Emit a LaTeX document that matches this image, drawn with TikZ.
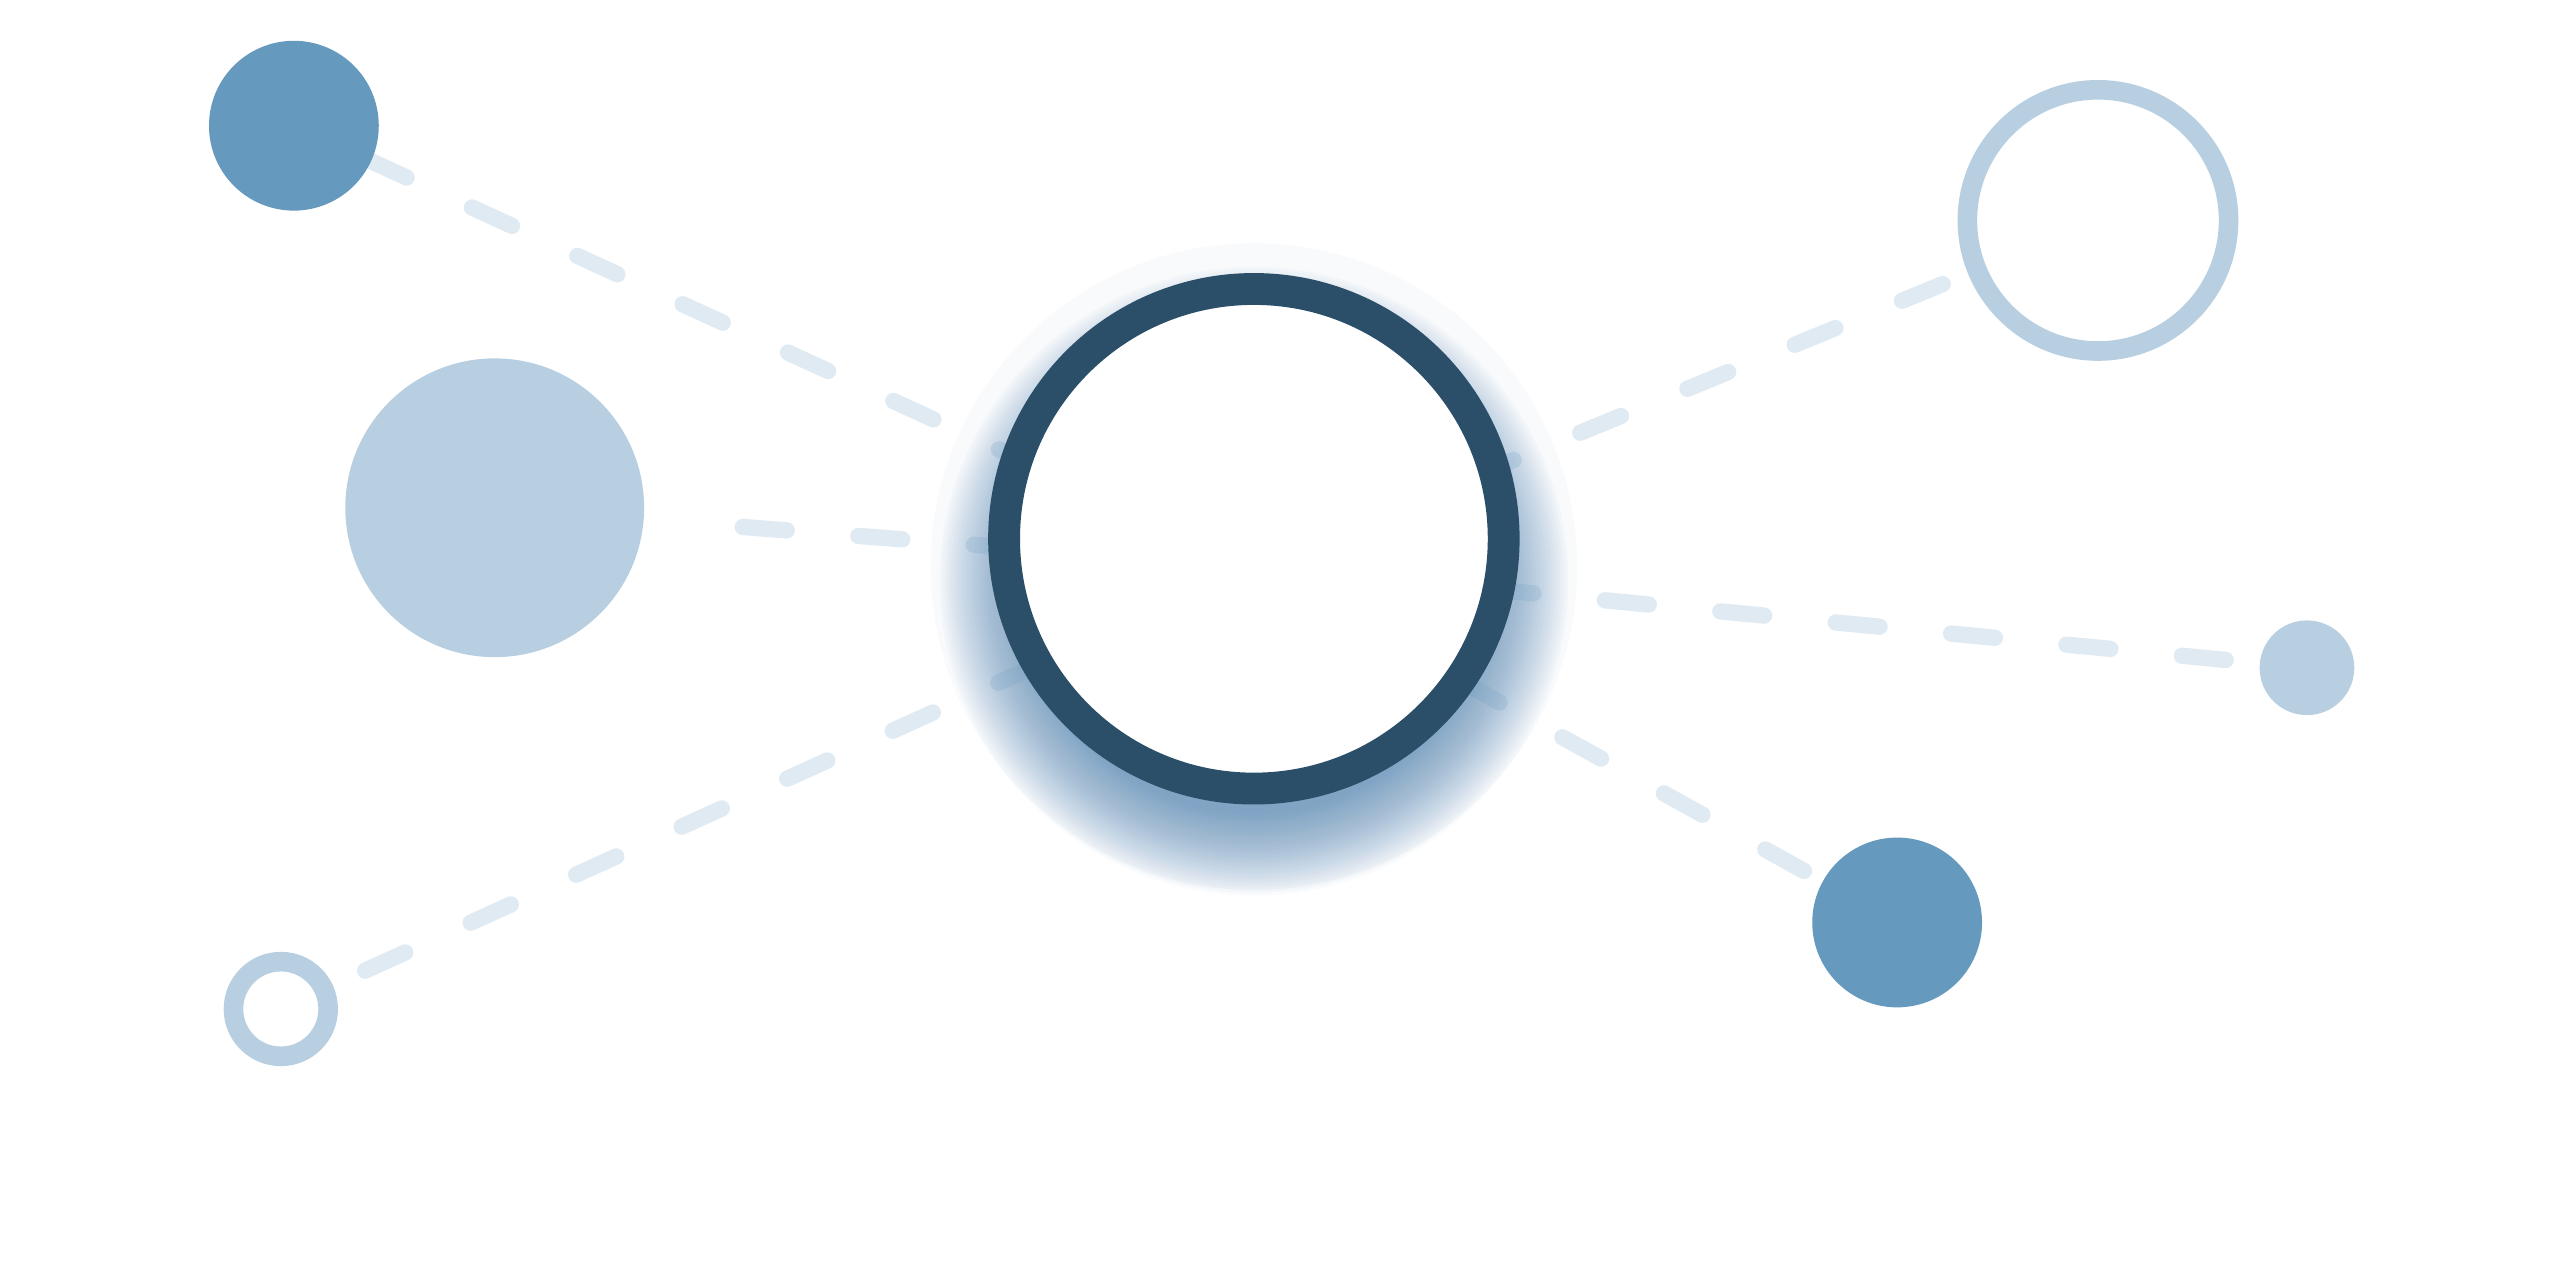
\documentclass[tikz,border=0pt]{standalone}
\usepackage{xcolor}
\usepackage{tikz}
\definecolor{hubring}{HTML}{2B4F69}
\definecolor{satdark}{HTML}{6699BE}
\definecolor{satlight}{HTML}{B8CFE2}
\definecolor{glowblue}{HTML}{3D78AB}

\begin{document}
\begin{tikzpicture}[x=1pt, y=-1pt,
  full/.style={circle, inner sep=0pt, fill=#1},
  hollow/.style={circle, inner sep=0pt, draw=satlight, line width=12pt, fill=white},
  core/.style={circle, inner sep=0pt, draw=hubring, line width=19.5pt, fill=white, minimum size=306pt},
  link/.style={draw=satdark, draw opacity=.2, line width=10pt, line cap=round,
    dash pattern=on 27pt off 44pt, dash phase=68pt}]
  \fill[white] (0,0) rectangle (1568,784);
  \useasboundingbox (0,0) rectangle (1568,784);

  % soft halo behind the hub
  \fill[glowblue, opacity=.035] (768,347) circle (198);
  \foreach \k in {0,...,30}
    \fill[glowblue, opacity=.027] (768,356) circle ({143+1.65*\k});

  \node[full=satdark, minimum size=104pt] (topleft) at (180,77) {};
  \node[full=satlight, minimum size=183pt] (bigleft) at (303,311) {};
  \node[hollow, minimum size=160pt] (topright) at (1285,135) {};
  \node[full=satlight, minimum size=58pt] (farright) at (1413,409) {};
  \node[full=satdark, minimum size=104pt] (lowright) at (1162,565) {};
  \node[hollow, minimum size=58pt] (lowleft) at (172,618) {};
  \coordinate (hub) at (768,347);

  \path[link]
  (hub) edge (topleft)
        edge[shorten >=30pt] (bigleft)
        edge (lowleft)
        edge (topright)
        edge (farright)
        edge (lowright)
  ;

  \node[core] (center) at (768,330) {};
\end{tikzpicture}
\end{document}
